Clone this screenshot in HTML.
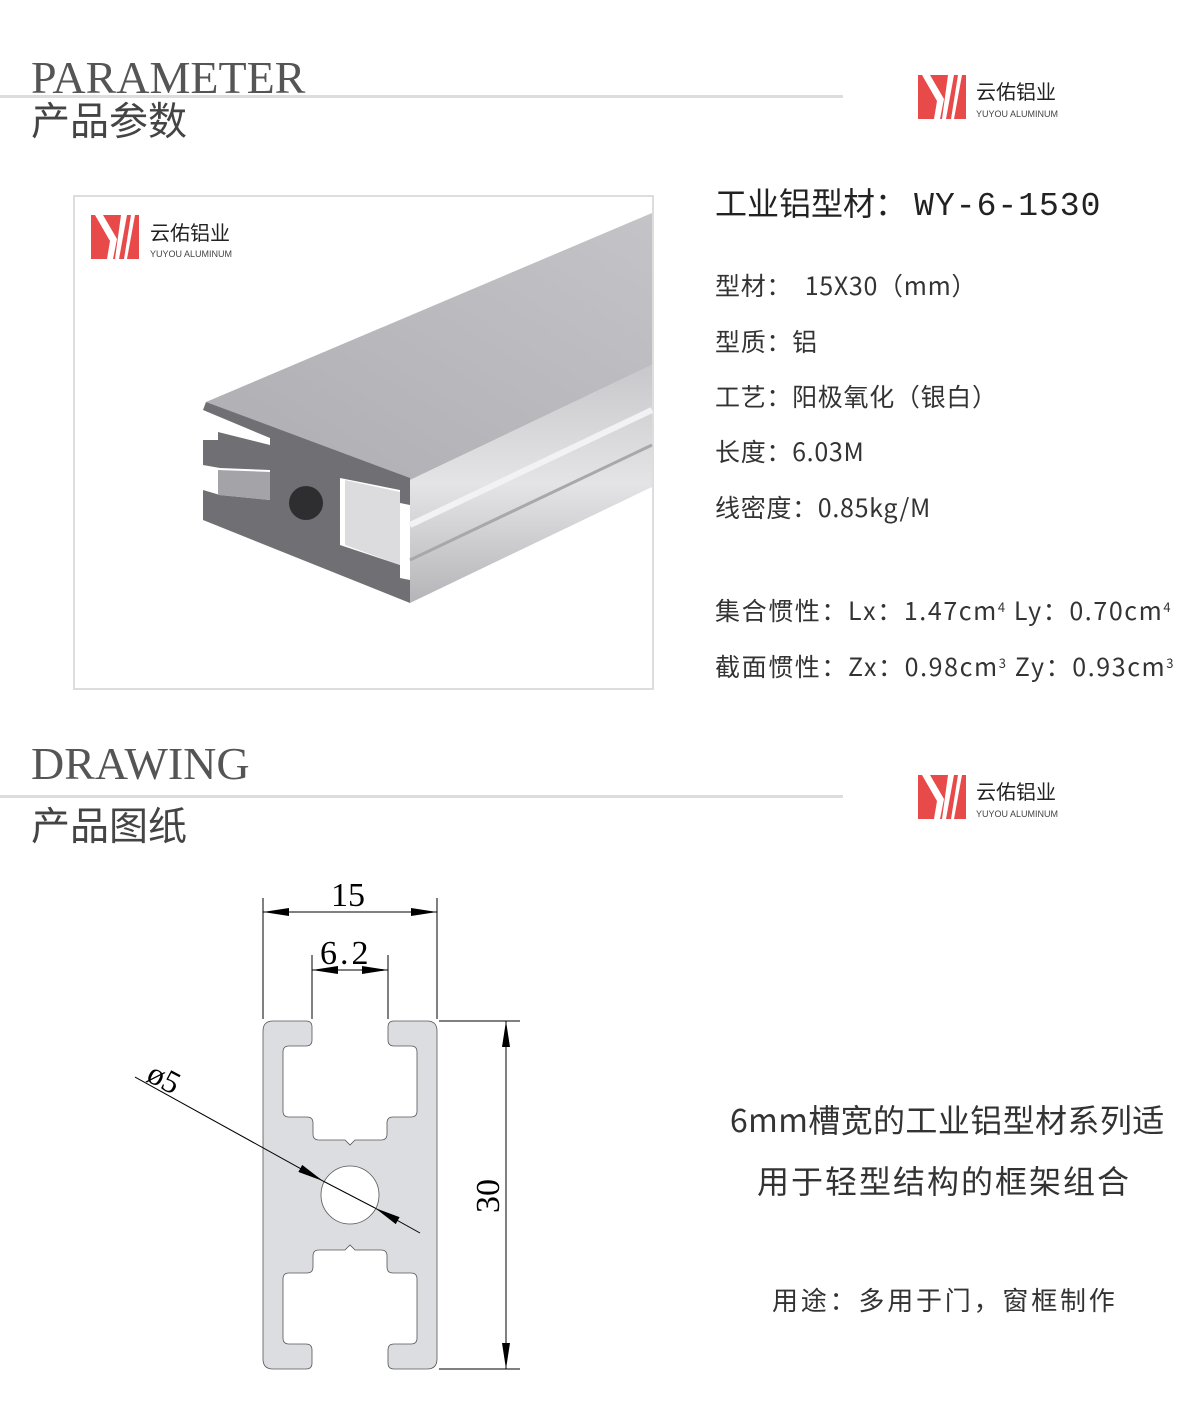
<!DOCTYPE html>
<html><head><meta charset="utf-8"><style>
body{margin:0;width:1200px;height:1422px;background:#fff;position:relative;overflow:hidden;font-family:"Liberation Sans","Noto Sans CJK SC",sans-serif;color:#333}
.a{position:absolute;white-space:nowrap}
.en{font-family:"Liberation Serif",serif;font-size:46px;color:#555}
.cn{font-size:39px;color:#444;font-family:"Noto Sans CJK SC",sans-serif;line-height:1.1}
.line{position:absolute;left:0;width:843px;height:3px;background:#ddd}
.spec{font-size:25px;color:#333;font-family:"Noto Sans CJK SC",sans-serif;line-height:1.1;letter-spacing:0.7px}
.spec2{letter-spacing:1.6px}
sup{font-size:13px;vertical-align:8px;line-height:0}
</style></head><body>
<svg width="0" height="0" style="position:absolute"><defs>
<g id="logo"><rect x="0" y="0" width="48" height="44" fill="#e84a4a"/>
<polygon points="4,0 12,0 26,24 22,44 16,44 19,26" fill="#fff"/>
<polygon points="30,0 36,0 28,44 24,44" fill="#fff"/>
<polygon points="40,0 44,0 36,44 33,44" fill="#fff"/></g></defs></svg>

<div class="a en" style="left:31px;top:51px">PARAMETER</div>
<div class="line" style="top:95px"></div>
<div class="a cn" style="left:31px;top:98px">产品参数</div>
<svg class="a" style="left:918px;top:75px" width="50" height="46"><use href="#logo"/></svg>
<div class="a" style="left:976px;top:76px;font-size:20px;color:#222">云佑铝业</div>
<div class="a" style="left:976px;top:109px;font-size:9px;color:#444">YUYOU ALUMINUM</div>

<div class="a" style="left:73px;top:195px;width:577px;height:491px;border:2px solid #ddd"></div>
<svg class="a" style="left:91px;top:215px" width="50" height="46"><use href="#logo"/></svg>
<div class="a" style="left:150px;top:217px;font-size:20px;color:#222">云佑铝业</div>
<div class="a" style="left:150px;top:249px;font-size:9px;color:#444">YUYOU ALUMINUM</div>
<svg class="a" style="left:0;top:0" width="660" height="700">
<defs>
<linearGradient id="tg" x1="0" y1="1" x2="1" y2="0"><stop offset="0" stop-color="#aeaeb2"/><stop offset="1" stop-color="#c4c4c8"/></linearGradient>
<linearGradient id="sg" x1="0" y1="0" x2="0" y2="1"><stop offset="0" stop-color="#c8c8cc"/><stop offset="0.5" stop-color="#e4e4e6"/><stop offset="1" stop-color="#b5b5b9"/></linearGradient>
</defs>
<polygon points="206,402 652,213 652,365 410,480" fill="url(#tg)"/>
<polygon points="410,480 652,365 652,487 410,603" fill="url(#sg)"/>
<line x1="410" y1="525" x2="652" y2="410" stroke="#f2f2f4" stroke-width="6"/>
<line x1="410" y1="560" x2="652" y2="445" stroke="#a8a8ac" stroke-width="3"/>
<polygon points="203,410 206,402 410,478 410,505 400,503 400,490 340,478 340,545 400,565 400,578 410,580 410,603 203,520 203,490 220,495 270,500 270,470 220,468 203,465 203,440 218,440 218,432 270,445 270,438" fill="#707074"/>
<polygon points="218,470 270,472 270,500 218,495" fill="#a3a3a8"/>
<polygon points="345,480 400,492 400,565 345,545" fill="#dcdcdf"/>
<circle cx="306" cy="503" r="17" fill="#2e2e30"/>
</svg>

<div class="a" style="left:715px;top:185px;font-size:32px;color:#222;font-family:'Noto Sans CJK SC',sans-serif;line-height:1.1">工业铝型材：&nbsp;<span style="font-family:'Liberation Mono',monospace;font-size:33px;letter-spacing:1px">WY-6-1530</span></div>
<div class="a spec" style="left:715px;top:272px">型材：&nbsp; 15X30（mm）</div>
<div class="a spec" style="left:715px;top:328px">型质：铝</div>
<div class="a spec" style="left:715px;top:383px">工艺：阳极氧化（银白）</div>
<div class="a spec" style="left:715px;top:438px">长度：6.03M</div>
<div class="a spec" style="left:715px;top:494px">线密度：0.85kg/M</div>
<div class="a spec spec2" style="left:715px;top:597px">集合惯性：Lx：1.47cm<sup>4</sup> Ly：0.70cm<sup>4</sup></div>
<div class="a spec spec2" style="left:715px;top:653px">截面惯性：Zx：0.98cm<sup>3</sup> Zy：0.93cm<sup>3</sup></div>

<div class="a en" style="left:31px;top:737px">DRAWING</div>
<div class="line" style="top:795px"></div>
<div class="a cn" style="left:31px;top:803px">产品图纸</div>
<svg class="a" style="left:918px;top:775px" width="50" height="46"><use href="#logo"/></svg>
<div class="a" style="left:976px;top:776px;font-size:20px;color:#222">云佑铝业</div>
<div class="a" style="left:976px;top:809px;font-size:9px;color:#444">YUYOU ALUMINUM</div>

<svg class="a" style="left:0;top:0" width="1200" height="1422">
<defs><marker id="ar" viewBox="0 0 26 8" refX="26" refY="4" markerWidth="26" markerHeight="8" markerUnits="userSpaceOnUse" orient="auto-start-reverse"><path d="M0,0 L26,4 L0,8Z" fill="#000"/></marker></defs>
<path fill-rule="evenodd" fill="#dcdde0" stroke="#555" stroke-width="0.8" d="M273,1021 H306 Q312,1021 312,1027 V1040 Q312,1046 306,1046 H289 Q283,1046 283,1052 V1111 Q283,1117 289,1117 H307 Q313,1117 313,1123 V1134 Q313,1140 319,1140 H345 L350,1145 L355,1140 H381 Q387,1140 387,1134 V1123 Q387,1117 393,1117 H411 Q417,1117 417,1111 V1052 Q417,1046 411,1046 H394 Q388,1046 388,1040 V1027 Q388,1021 394,1021 H427 Q437,1021 437,1031 V1359 Q437,1369 427,1369 H394 Q388,1369 388,1363 V1350 Q388,1344 394,1344 H411 Q417,1344 417,1338 V1279 Q417,1273 411,1273 H393 Q387,1273 387,1267 V1256 Q387,1250 381,1250 H355 L350,1245 L345,1250 H319 Q313,1250 313,1256 V1267 Q313,1273 307,1273 H289 Q283,1273 283,1279 V1338 Q283,1344 289,1344 H306 Q312,1344 312,1350 V1363 Q312,1369 306,1369 H273 Q263,1369 263,1359 V1031 Q263,1021 273,1021 Z M379,1195 A29,29 0 1 0 321,1195 A29,29 0 1 0 379,1195 Z"/>
<g stroke="#000" stroke-width="1" fill="none">
<line x1="263" y1="898" x2="263" y2="1019"/><line x1="437" y1="898" x2="437" y2="1019"/>
<line x1="263" y1="912" x2="437" y2="912" marker-start="url(#ar)" marker-end="url(#ar)"/>
<line x1="312" y1="955" x2="312" y2="1019"/><line x1="388" y1="955" x2="388" y2="1019"/>
<line x1="312" y1="970" x2="388" y2="970" marker-start="url(#ar)" marker-end="url(#ar)"/>
<line x1="439" y1="1021" x2="520" y2="1021"/><line x1="439" y1="1369" x2="520" y2="1369"/>
<line x1="506" y1="1021" x2="506" y2="1369" marker-start="url(#ar)" marker-end="url(#ar)"/>
<line x1="135" y1="1077" x2="323" y2="1181" marker-end="url(#ar)"/>
<line x1="420" y1="1233" x2="375" y2="1208" marker-end="url(#ar)"/>
<line x1="323" y1="1181" x2="375" y2="1208"/>
</g>
<g font-family="Liberation Serif,serif" font-size="34" fill="#000">
<text x="331" y="906">15</text>
<text x="320" y="964" letter-spacing="3">6.2</text>
<text transform="translate(499,1213) rotate(-90)">30</text>
<text transform="translate(145,1080) rotate(28)" font-size="32">ø5</text>
</g>
</svg>

<div class="a" style="left:730px;top:1100px;font-size:32px;color:#333;font-family:'Noto Sans CJK SC',sans-serif;line-height:1.2;letter-spacing:0.4px">6mm槽宽的工业铝型材系列适</div>
<div class="a" style="left:757px;top:1161px;font-size:32px;color:#333;letter-spacing:2px;font-family:'Noto Sans CJK SC',sans-serif;line-height:1.2">用于轻型结构的框架组合</div>
<div class="a" style="left:772px;top:1284px;font-size:26px;color:#333;font-family:'Noto Sans CJK SC',sans-serif;line-height:1.2;letter-spacing:2.8px">用途：多用于门，窗框制作</div>
</body></html>
